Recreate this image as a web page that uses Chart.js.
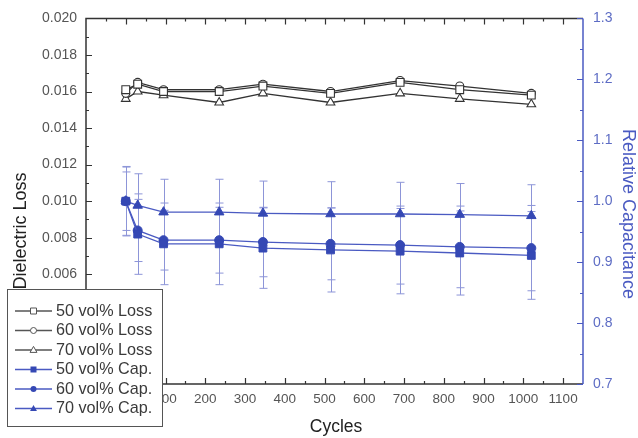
<!DOCTYPE html>
<html lang="en">
<head>
    <meta charset="UTF-8">
    <title>Dielectric Loss / Relative Capacitance vs Cycles</title>
    <script src="https://cdn.jsdelivr.net/npm/chart.js"></script>
    <style>
        html, body {
            margin: 0;
            padding: 0;
            background: #fff;
        }
        #chart {
            display: block;
        }
    </style>
</head>
<body>
<canvas id="chart" width="638" height="438"></canvas>
<script>
    // 循环次数
    const cycles = [0, 30, 95, 235, 345, 515, 690, 840, 1020];

    // 介电损耗 (左轴)
    const loss50 = [0.0161, 0.0164, 0.0160, 0.0160, 0.0163, 0.0159, 0.0165, 0.0161, 0.0158];
    const loss60 = [0.0159, 0.0165, 0.0161, 0.0161, 0.0164, 0.0160, 0.0166, 0.0163, 0.0159];
    const loss70 = [0.0156, 0.0160, 0.0158, 0.0154, 0.0159, 0.0154, 0.0159, 0.0156, 0.0153];

    // 相对电容 (右轴)
    const cap50 = [1.000, 0.946, 0.930, 0.930, 0.923, 0.920, 0.918, 0.915, 0.911];
    const cap60 = [1.000, 0.952, 0.936, 0.936, 0.933, 0.930, 0.928, 0.925, 0.923];
    const cap70 = [1.000, 0.993, 0.982, 0.982, 0.980, 0.979, 0.979, 0.978, 0.976];

    // 误差棒 (±)
    const err50 = [0.057, 0.066, 0.067, 0.067, 0.066, 0.069, 0.070, 0.069, 0.072];
    const err60 = [0.048, 0.051, 0.049, 0.054, 0.057, 0.059, 0.064, 0.067, 0.070];
    const err70 = [0.056, 0.052, 0.054, 0.054, 0.053, 0.053, 0.052, 0.051, 0.051];

    // 坐标轴范围
    const xRange = [-100, 1150, 100, 50];
    const lossRange = [0, 0.020, 0.002, 0.001];
    const capRange = [0.7, 1.3, 0.1, 0.05];

    const legendLabels = ['50 vol% Loss', '60 vol% Loss', '70 vol% Loss', '50 vol% Cap.', '60 vol% Cap.', '70 vol% Cap.'];

    const BLACK = '#333333';
    const BLUE = '#4a5ac2';
    const BLUE_FILL = '#3548b4';
    const ERR = '#8d95d8';
    const FONT = 'Liberation Sans, Arial, sans-serif';

    const pts = ys => cycles.map((c, i) => ({x: c, y: ys[i]}));

    function lossSet(label, ys, style, r) {
        return {
            label: label, data: pts(ys), yAxisID: 'y',
            borderColor: BLACK, borderWidth: 1.3,
            pointStyle: style, pointRadius: r,
            pointBackgroundColor: '#fff', pointBorderColor: BLACK, pointBorderWidth: 1.1
        };
    }

    function capSet(label, ys, style, r) {
        return {
            label: label, data: pts(ys), yAxisID: 'y2',
            borderColor: BLUE, borderWidth: 1.3,
            pointStyle: style, pointRadius: r,
            pointBackgroundColor: BLUE_FILL, pointBorderColor: BLUE_FILL, pointBorderWidth: 1
        };
    }

    // 画误差棒
    const errorBars = {
        id: 'errorBars',
        beforeDatasetsDraw(chart) {
            const {ctx, scales: {x, y2}} = chart;
            ctx.save();
            ctx.strokeStyle = ERR;
            ctx.lineWidth = 1;
            [[cap50, err50], [cap60, err60], [cap70, err70]].forEach(([vals, errs]) => {
                cycles.forEach((c, i) => {
                    const px = Math.round(x.getPixelForValue(c)) + 0.5;
                    const top = y2.getPixelForValue(vals[i] + errs[i]);
                    const bot = y2.getPixelForValue(vals[i] - errs[i]);
                    ctx.beginPath();
                    ctx.moveTo(px, top); ctx.lineTo(px, bot);
                    ctx.moveTo(px - 4, top); ctx.lineTo(px + 4, top);
                    ctx.moveTo(px - 4, bot); ctx.lineTo(px + 4, bot);
                    ctx.stroke();
                });
            });
            ctx.restore();
        }
    };

    function ticksOf(range) {
        const out = [];
        const n = Math.round((range[1] - range[0]) / range[3]);
        for (let k = 0; k <= n; k++) {
            out.push({v: range[0] + k * range[3], major: k % Math.round(range[2] / range[3]) === 0});
        }
        return out;
    }

    // 画坐标框、向内刻度、轴标题
    const axesBox = {
        id: 'axesBox',
        afterDraw(chart) {
            const {ctx, chartArea: a, scales: {x, y, y2}} = chart;
            ctx.save();
            ctx.lineWidth = 1.5;

            ctx.strokeStyle = BLACK;
            ctx.beginPath();
            ctx.moveTo(a.right, a.top); ctx.lineTo(a.left, a.top);
            ctx.lineTo(a.left, a.bottom); ctx.lineTo(a.right, a.bottom);
            ctx.stroke();

            ctx.lineWidth = 1.2;
            ctx.beginPath();
            // x 轴刻度 (上下)
            ticksOf(xRange).forEach(t => {
                if (t.v <= xRange[0] || t.v >= xRange[1]) return;
                const px = Math.round(x.getPixelForValue(t.v)) + 0.5;
                const len = t.major ? 6 : 3;
                ctx.moveTo(px, a.bottom); ctx.lineTo(px, a.bottom - len);
                ctx.moveTo(px, a.top); ctx.lineTo(px, a.top + len);
            });
            // 左轴刻度
            ticksOf(lossRange).forEach(t => {
                const py = Math.round(y.getPixelForValue(t.v)) + 0.5;
                const len = t.major ? 6 : 3;
                ctx.moveTo(a.left, py); ctx.lineTo(a.left + len, py);
            });
            ctx.stroke();

            // 右轴 (蓝色)
            ctx.strokeStyle = BLUE;
            ctx.lineWidth = 1.5;
            ctx.beginPath();
            ctx.moveTo(a.right, a.top); ctx.lineTo(a.right, a.bottom);
            ctx.stroke();
            ctx.lineWidth = 1.2;
            ctx.beginPath();
            ticksOf(capRange).forEach(t => {
                const py = Math.round(y2.getPixelForValue(t.v)) + 0.5;
                const len = t.major ? 6 : 3;
                ctx.moveTo(a.right, py); ctx.lineTo(a.right - len, py);
            });
            ctx.stroke();

            // 轴标题
            ctx.textAlign = 'center';
            ctx.textBaseline = 'middle';
            ctx.fillStyle = '#222';
            ctx.font = '17.5px ' + FONT;
            ctx.fillText('Cycles', 336, 427);

            ctx.font = '18px ' + FONT;
            ctx.save();
            ctx.translate(21, 231);
            ctx.rotate(-Math.PI / 2);
            ctx.fillText('Dielectric Loss', 0, 0);
            ctx.restore();

            ctx.save();
            ctx.fillStyle = BLUE;
            ctx.translate(628, 214);
            ctx.rotate(Math.PI / 2);
            ctx.fillText('Relative Capacitance', 0, 0);
            ctx.restore();

            ctx.restore();
        }
    };

    function marker(ctx, style, filled, cx, cy, r) {
        ctx.beginPath();
        if (style === 'rect') {
            ctx.rect(cx - r, cy - r, 2 * r, 2 * r);
        } else if (style === 'circle') {
            ctx.arc(cx, cy, r, 0, Math.PI * 2);
        } else {
            ctx.moveTo(cx, cy - r * 1.2);
            ctx.lineTo(cx + r * 1.15, cy + r * 0.8);
            ctx.lineTo(cx - r * 1.15, cy + r * 0.8);
            ctx.closePath();
        }
        if (filled) {
            ctx.fill();
        } else {
            ctx.fillStyle = '#fff';
            ctx.fill();
            ctx.stroke();
        }
    }

    // 图例 (压在坐标轴上)
    const boxLegend = {
        id: 'boxLegend',
        afterDraw(chart) {
            const ctx = chart.ctx;
            ctx.save();
            ctx.fillStyle = '#fff';
            ctx.fillRect(7, 289, 155, 138);
            ctx.strokeStyle = '#555';
            ctx.lineWidth = 1;
            ctx.strokeRect(7.5, 289.5, 155, 137);

            const styles = ['rect', 'circle', 'triangle', 'rect', 'circle', 'triangle'];
            ctx.font = '16.2px ' + FONT;
            ctx.textBaseline = 'middle';
            legendLabels.forEach((lab, i) => {
                const yy = 311 + i * 19.5;
                const cap = i >= 3;
                const col = cap ? BLUE : '#555';
                ctx.strokeStyle = col;
                ctx.lineWidth = 1.3;
                ctx.beginPath();
                ctx.moveTo(15, yy); ctx.lineTo(52, yy);
                ctx.stroke();
                ctx.fillStyle = cap ? BLUE_FILL : '#fff';
                ctx.lineWidth = 1;
                marker(ctx, styles[i], cap, 33.5, yy, 3);
                ctx.fillStyle = '#3a3a3a';
                ctx.fillText(lab, 56, yy + 0.5);
            });
            ctx.restore();
        }
    };

    const tickFont = {family: FONT, size: 14};

    new Chart(document.getElementById('chart').getContext('2d'), {
        type: 'line',
        data: {
            datasets: [
                lossSet(legendLabels[0], loss50, 'rect', 5.5),
                lossSet(legendLabels[1], loss60, 'circle', 4),
                lossSet(legendLabels[2], loss70, 'triangle', 5),
                capSet(legendLabels[3], cap50, 'rect', 5.5),
                capSet(legendLabels[4], cap60, 'circle', 4.5),
                capSet(legendLabels[5], cap70, 'triangle', 5.5)
            ]
        },
        options: {
            responsive: false,
            animation: false,
            devicePixelRatio: 1,
            events: [],
            layout: {padding: {top: 18, left: 0, right: 0, bottom: 0}},
            plugins: {legend: {display: false}, tooltip: {enabled: false}},
            elements: {line: {tension: 0}},
            scales: {
                x: {
                    type: 'linear', position: 'bottom',
                    min: xRange[0], max: xRange[1],
                    grid: {display: false, drawTicks: false}, border: {display: false},
                    ticks: {
                        stepSize: xRange[2], includeBounds: false, padding: 7,
                        maxRotation: 0, autoSkip: false,
                        font: {family: FONT, size: 13.5}, color: '#555',
                        callback: v => String(Math.round(v))
                    },
                    afterFit: s => { s.height = 54; }
                },
                y: {
                    position: 'left',
                    min: lossRange[0], max: lossRange[1],
                    grid: {display: false, drawTicks: false}, border: {display: false},
                    ticks: {
                        stepSize: lossRange[2], padding: 9, font: tickFont, color: '#555',
                        callback: v => v.toFixed(3)
                    },
                    afterFit: s => { s.width = 86; }
                },
                y2: {
                    position: 'right',
                    min: capRange[0], max: capRange[1],
                    grid: {display: false, drawTicks: false}, border: {display: false},
                    ticks: {
                        stepSize: capRange[2], padding: 10, font: tickFont, color: '#5d6cc4',
                        callback: v => v.toFixed(1)
                    },
                    afterFit: s => { s.width = 55; }
                }
            }
        },
        plugins: [errorBars, axesBox, boxLegend]
    });
</script>
</body>
</html>
